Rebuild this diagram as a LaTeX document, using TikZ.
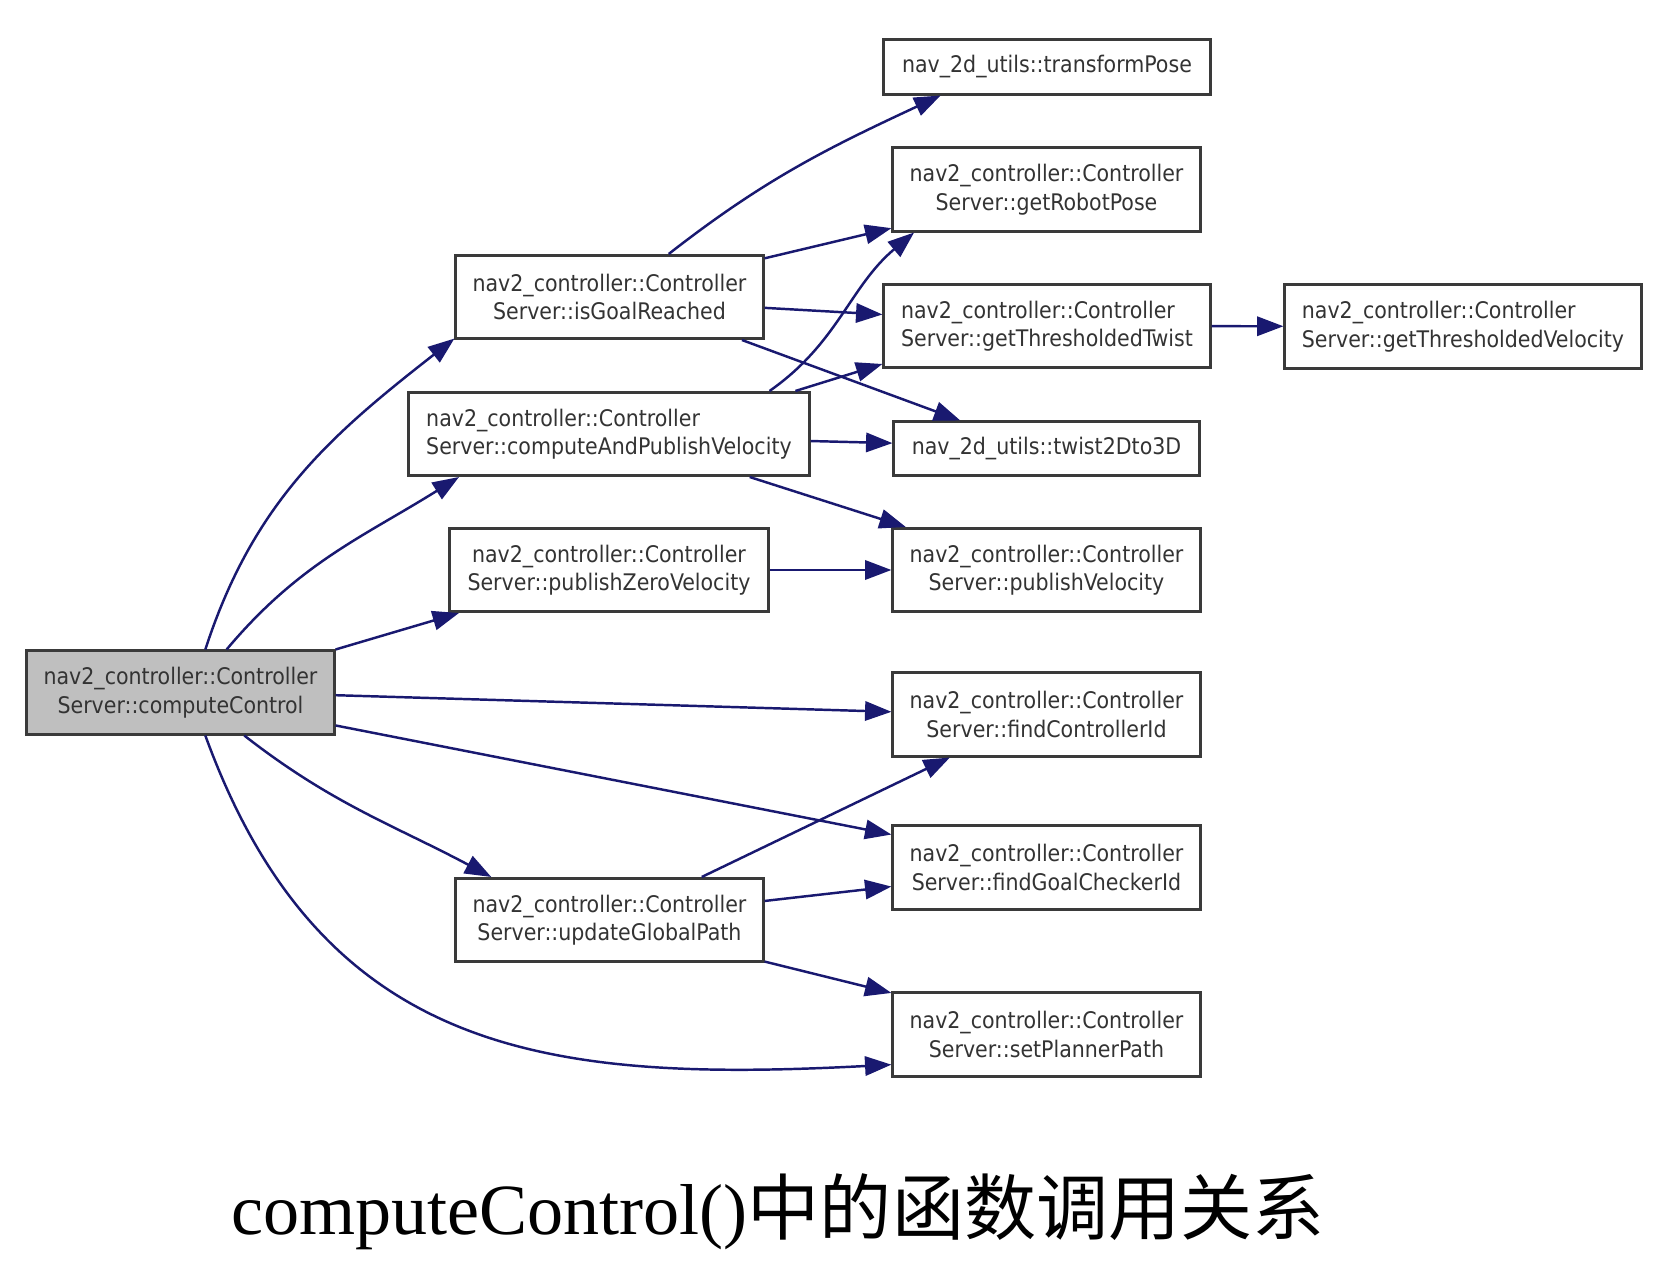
\documentclass[tikz,border=0pt]{standalone}
\usepackage{fontspec}
\setmainfont{Liberation Serif}
\newfontfamily\boxfont{DejaVu Sans Condensed}
\newfontfamily\cjk{Noto Sans CJK SC}
\usetikzlibrary{arrows.meta}
\definecolor{edgeblue}{HTML}{191970}
\definecolor{boxgray}{HTML}{BFBFBF}
\definecolor{boxline}{HTML}{3A3A3A}
\definecolor{fntext}{HTML}{333333}
\begin{document}
\begin{tikzpicture}[x=0.01cm,y=0.01cm,
  fbox/.style={draw=boxline,line width=0.85pt,fill=white,text=fntext,inner sep=0pt,
    minimum width=3.07cm,minimum height=0.83cm,align=center,
    font=\boxfont\fontsize{6.5}{8.1}\selectfont},
  call/.style={edgeblue,line width=0.7pt,-{Triangle[length=7.5pt,width=5.5pt]}}]
\useasboundingbox (0,0) rectangle (1654,-1267);
% caller and first level
\node[fbox,fill=boxgray] (cc) at (180.5,-692.5) {nav2\_controller::Controller\\Server::computeControl};
\node[fbox] (igr) at (609.5,-297) {nav2\_controller::Controller\\Server::isGoalReached};
\node[fbox,minimum width=4cm,align=left] (capv) at (609,-434) {nav2\_controller::Controller\\Server::computeAndPublishVelocity};
\node[fbox,minimum width=3.18cm] (pzv) at (609,-570) {nav2\_controller::Controller\\Server::publishZeroVelocity};
\node[fbox] (ugp) at (609.5,-920) {nav2\_controller::Controller\\Server::updateGlobalPath};
% callees
\node[fbox,minimum width=3.26cm,minimum height=0.54cm] (tp) at (1047,-67) {nav\_2d\_utils::transformPose};
\node[fbox] (grp) at (1046.5,-189.5) {nav2\_controller::Controller\\Server::getRobotPose};
\node[fbox,minimum width=3.26cm,minimum height=0.82cm,align=left] (gtt) at (1047,-326) {nav2\_controller::Controller\\Server::getThresholdedTwist};
\node[fbox,minimum width=3.56cm,align=left] (gtv) at (1463,-326.5) {nav2\_controller::Controller\\Server::getThresholdedVelocity};
\node[fbox,minimum width=3.05cm,minimum height=0.53cm] (t2d) at (1046.5,-448.5) {nav\_2d\_utils::twist2Dto3D};
\node[fbox] (pv) at (1046.5,-570) {nav2\_controller::Controller\\Server::publishVelocity};
\node[fbox] (fci) at (1046.5,-714.5) {nav2\_controller::Controller\\Server::findControllerId};
\node[fbox] (fgc) at (1046.5,-867.5) {nav2\_controller::Controller\\Server::findGoalCheckerId};
\node[fbox] (spp) at (1046.5,-1034.5) {nav2\_controller::Controller\\Server::setPlannerPath};
% calls
\draw[call] (cc.60) to[out=72,in=218] (igr.195);
\draw[call] (cc.43) to[out=50,in=212] (capv.196);
\draw[call] (cc.north east) -- (pzv.196);
\draw[call] (cc.-1) -- (fci.179);
\draw[call] (cc.-12) -- (fgc.168);
\draw[call] (cc.-34) to[out=-38,in=152] (ugp.160);
\draw[call] (cc.-60) to[out=-70,in=183,looseness=1.15] (spp.191);
\draw[call] (igr.36) to[out=38,in=205] (tp.195);
\draw[call] (igr.14) -- (grp.194);
\draw[call] (igr.-4) -- (gtt.176);
\draw[call] (igr.-18) -- (t2d.162);
\draw[call] (capv.15) to[out=35,in=220] (grp.198);
\draw[call] (capv.13) -- (gtt.193);
\draw[call] (capv.-2) -- (t2d.178);
\draw[call] (capv.-17) -- (pv.163);
\draw[call] (pzv) -- (pv);
\draw[call] (gtt) -- (gtv);
\draw[call] (ugp.25) -- (fci.204);
\draw[call] (ugp.7) -- (fgc.187);
\draw[call] (ugp.-15) -- (spp.165);
\node[anchor=base] (title) at (778,-1234) {\fontsize{20.5}{24}\selectfont computeControl()\cjk 中的函数调用关系};
\end{tikzpicture}
\end{document}
